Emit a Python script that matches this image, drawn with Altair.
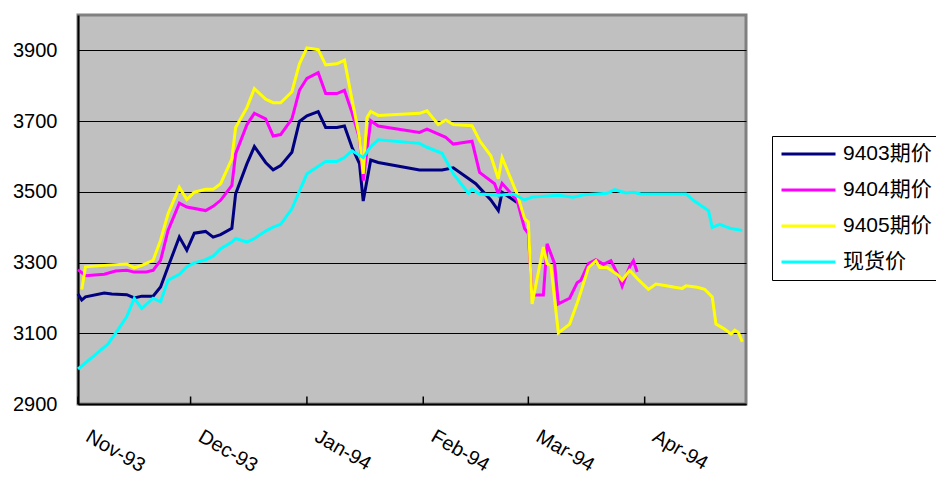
import altair as alt
import pandas as pd

# ---------------- data ----------------
series_names = ["9403期价", "9404期价", "9405期价", "现货价"]
series_colors = ["#000080", "#FF00FF", "#FFFF00", "#00FFFF"]

d9403 = ["1993-11-01", "1993-11-02", "1993-11-03", "1993-11-08", "1993-11-10", "1993-11-14",
         "1993-11-16", "1993-11-18", "1993-11-21", "1993-11-23", "1993-11-25", "1993-11-28",
         "1993-11-30", "1993-12-02", "1993-12-05", "1993-12-07", "1993-12-09", "1993-12-12",
         "1993-12-13", "1993-12-16", "1993-12-18", "1993-12-21", "1993-12-23", "1993-12-25",
         "1993-12-28", "1993-12-30", "1994-01-01", "1994-01-04", "1994-01-06", "1994-01-09",
         "1994-01-11", "1994-01-13", "1994-01-15", "1994-01-16", "1994-01-18", "1994-01-20",
         "1994-01-31", "1994-02-06", "1994-02-09", "1994-02-15", "1994-02-19", "1994-02-21",
         "1994-02-22", "1994-02-26"]
v9403 = [3211, 3194, 3203, 3214, 3211, 3209, 3200, 3205, 3205, 3231,
         3288, 3372, 3335, 3383, 3388, 3372, 3379, 3397, 3494, 3579,
         3628, 3583, 3562, 3574, 3612, 3699, 3715, 3727, 3682, 3682,
         3686, 3626, 3580, 3474, 3590, 3583, 3562, 3562, 3568, 3523,
         3477, 3447, 3499, 3470]

d9404 = ["1993-11-01", "1993-11-03", "1993-11-08", "1993-11-11", "1993-11-14", "1993-11-16",
         "1993-11-19", "1993-11-21", "1993-11-23", "1993-11-25", "1993-11-28", "1993-11-30",
         "1993-12-05", "1993-12-07", "1993-12-09", "1993-12-12", "1993-12-13", "1993-12-16",
         "1993-12-18", "1993-12-21", "1993-12-23", "1993-12-25", "1993-12-28", "1993-12-30",
         "1994-01-01", "1994-01-04", "1994-01-06", "1994-01-09", "1994-01-11", "1994-01-13",
         "1994-01-15", "1994-01-16", "1994-01-18", "1994-01-20", "1994-01-31", "1994-02-02",
         "1994-02-07", "1994-02-09", "1994-02-14", "1994-02-16", "1994-02-20", "1994-02-21",
         "1994-02-22", "1994-02-26", "1994-02-28", "1994-03-01", "1994-03-02", "1994-03-05",
         "1994-03-06", "1994-03-08", "1994-03-09", "1994-03-12", "1994-03-14", "1994-03-15",
         "1994-03-17", "1994-03-19", "1994-03-21", "1994-03-23", "1994-03-25", "1994-03-26",
         "1994-03-28", "1994-03-29", "1994-03-30"]
v9404 = [3280, 3263, 3267, 3276, 3278, 3273, 3273, 3278, 3306, 3391,
         3468, 3457, 3447, 3459, 3476, 3518, 3607, 3690, 3722, 3706,
         3658, 3662, 3706, 3787, 3821, 3837, 3778, 3778, 3787, 3724,
         3652, 3532, 3701, 3686, 3668, 3677, 3654, 3635, 3643, 3555,
         3523, 3494, 3524, 3476, 3396, 3382, 3208, 3208, 3353, 3297,
         3183, 3199, 3243, 3250, 3297, 3308, 3295, 3305, 3264, 3233,
         3288, 3305, 3273]

d9405 = ["1993-11-02", "1993-11-03", "1993-11-08", "1993-11-14", "1993-11-16", "1993-11-18",
         "1993-11-21", "1993-11-23", "1993-11-25", "1993-11-28", "1993-11-30", "1993-12-02",
         "1993-12-05", "1993-12-07", "1993-12-09", "1993-12-12", "1993-12-13", "1993-12-16",
         "1993-12-18", "1993-12-21", "1993-12-23", "1993-12-25", "1993-12-28", "1993-12-30",
         "1994-01-01", "1994-01-04", "1994-01-06", "1994-01-09", "1994-01-11", "1994-01-13",
         "1994-01-15", "1994-01-16", "1994-01-17", "1994-01-18", "1994-01-20", "1994-01-31",
         "1994-02-02", "1994-02-05", "1994-02-07", "1994-02-09", "1994-02-14", "1994-02-16",
         "1994-02-19", "1994-02-21", "1994-02-22", "1994-02-26", "1994-02-28", "1994-03-01",
         "1994-03-02", "1994-03-05", "1994-03-06", "1994-03-07", "1994-03-09", "1994-03-12",
         "1994-03-14", "1994-03-15", "1994-03-17", "1994-03-19", "1994-03-20", "1994-03-22",
         "1994-03-25", "1994-03-26", "1994-03-28", "1994-03-30", "1994-04-02", "1994-04-04",
         "1994-04-06", "1994-04-09", "1994-04-11", "1994-04-12", "1994-04-15", "1994-04-17",
         "1994-04-19", "1994-04-20", "1994-04-22", "1994-04-24", "1994-04-25", "1994-04-26",
         "1994-04-27"]
v9405 = [3224, 3288, 3292, 3296, 3285, 3292, 3306, 3363, 3438, 3513,
         3478, 3499, 3507, 3507, 3523, 3593, 3682, 3738, 3792, 3762,
         3752, 3752, 3783, 3862, 3907, 3902, 3859, 3862, 3872, 3762,
         3654, 3551, 3710, 3727, 3716, 3722, 3729, 3690, 3703, 3690,
         3687, 3645, 3602, 3537, 3597, 3494, 3424, 3414, 3183, 3344,
         3297, 3292, 3101, 3126, 3185, 3217, 3286, 3305, 3286, 3286,
         3264, 3250, 3278, 3255, 3224, 3239, 3236, 3230, 3227, 3234,
         3230, 3224, 3203, 3126, 3114, 3098, 3109, 3102, 3076]

dspot = ["1993-11-01", "1993-11-05", "1993-11-09", "1993-11-11", "1993-11-14", "1993-11-16",
         "1993-11-18", "1993-11-21", "1993-11-23", "1993-11-25", "1993-11-28", "1993-11-30",
         "1993-12-02", "1993-12-05", "1993-12-07", "1993-12-09", "1993-12-12", "1993-12-13",
         "1993-12-16", "1993-12-18", "1993-12-21", "1993-12-23", "1993-12-25", "1993-12-28",
         "1993-12-30", "1994-01-01", "1994-01-06", "1994-01-09", "1994-01-11", "1994-01-13",
         "1994-01-16", "1994-01-18", "1994-01-20", "1994-01-31", "1994-02-02", "1994-02-06",
         "1994-02-09", "1994-02-13", "1994-02-14", "1994-02-16", "1994-02-21", "1994-02-25",
         "1994-02-28", "1994-03-02", "1994-03-09", "1994-03-13", "1994-03-16", "1994-03-22",
         "1994-03-24", "1994-03-27", "1994-03-29", "1994-03-31", "1994-04-12", "1994-04-14",
         "1994-04-16", "1994-04-18", "1994-04-19", "1994-04-21", "1994-04-24", "1994-04-27"]
vspot = [2999, 3034, 3070, 3100, 3147, 3199, 3170, 3199, 3189, 3250,
         3267, 3288, 3299, 3308, 3318, 3339, 3358, 3368, 3358, 3368,
         3389, 3400, 3408, 3452, 3502, 3551, 3586, 3586, 3597, 3616,
         3597, 3628, 3647, 3637, 3626, 3609, 3551, 3496, 3508, 3494,
         3490, 3494, 3477, 3485, 3490, 3485, 3492, 3496, 3506, 3497,
         3499, 3494, 3494, 3476, 3461, 3447, 3399, 3408, 3396, 3391]

month_ticks = ["1993-11-01", "1993-12-01", "1994-01-01", "1994-02-01", "1994-03-01", "1994-04-01"]
x_range = ["1993-11-01", "1994-04-28"]
y_ticks = [2900, 3100, 3300, 3500, 3700, 3900]
y_range = [2900, 4000]

# ---------------- tables ----------------
rows = []
for name, ds, vs in zip(series_names, [d9403, d9404, d9405, dspot], [v9403, v9404, v9405, vspot]):
    for d, v in zip(ds, vs):
        rows.append({"date": d, "price": v, "series": name})
df = pd.DataFrame(rows)
ticks_df = pd.DataFrame({"date": month_ticks})


def to_dt(s):
    t = pd.Timestamp(s)
    return alt.DateTime(year=t.year, month=t.month, date=t.day, utc=True)


FONT = "Liberation Sans, Arial, Noto Sans CJK SC"

x_scale = alt.Scale(type="utc", domain=[to_dt(s) for s in x_range], nice=False)

ticks = alt.Chart(ticks_df).mark_rule(color="black", strokeWidth=1.5).encode(
    x=alt.X("date:T", scale=x_scale),
    y=alt.value(389),
    y2=alt.value(381.5),
)

lines = alt.Chart(df).mark_line(strokeWidth=3, strokeJoin="miter").encode(
    x=alt.X(
        "date:T",
        scale=x_scale,
        axis=alt.Axis(
            values=[to_dt(s) for s in month_ticks],
            format="%b-%y",
            labelAngle=30,
            labelAlign="left",
            labelBaseline="top",
            labelFontSize=20,
            labelFont=FONT,
            labelColor="black",
            labelPadding=22,
            labelOffset=14,
            labelOverlap=False,
            labelFlush=False,
            labelBound=False,
            tickSize=0,
            grid=False,
            domainColor="black",
            domainWidth=2,
            title=None,
        ),
    ),
    y=alt.Y(
        "price:Q",
        scale=alt.Scale(domain=y_range, nice=False, zero=False),
        axis=alt.Axis(
            values=y_ticks,
            format="d",
            grid=True,
            gridColor="black",
            gridWidth=1.2,
            gridOpacity=1,
            tickSize=0,
            labelFontSize=20,
            labelFont=FONT,
            labelColor="black",
            labelPadding=21,
            domainColor="black",
            domainWidth=2,
            title=None,
        ),
    ),
    color=alt.Color(
        "series:N",
        scale=alt.Scale(domain=series_names, range=series_colors),
        sort=series_names,
        legend=alt.Legend(
            title=None,
            orient="none",
            legendX=694,
            legendY=121,
            fillColor="white",
            strokeColor="black",
            padding=8,
            labelFontSize=21,
            labelFont=FONT,
            labelColor="black",
            labelLimit=300,
            labelOffset=6,
            symbolType="stroke",
            symbolSize=2916,
            symbolStrokeWidth=3,
            clipHeight=20,
            rowPadding=15,
        ),
    ),
)

chart = alt.layer(ticks, lines).properties(
    width=668,
    height=389,
    autosize=alt.AutoSizeParams(type="none"),
    padding={"left": 70, "top": 7, "right": 190, "bottom": 72},
).configure_view(
    fill="#C0C0C0",
    stroke="#808080",
    strokeWidth=3,
)

chart.save("out.html", embed_options={"renderer": "svg", "actions": False})
